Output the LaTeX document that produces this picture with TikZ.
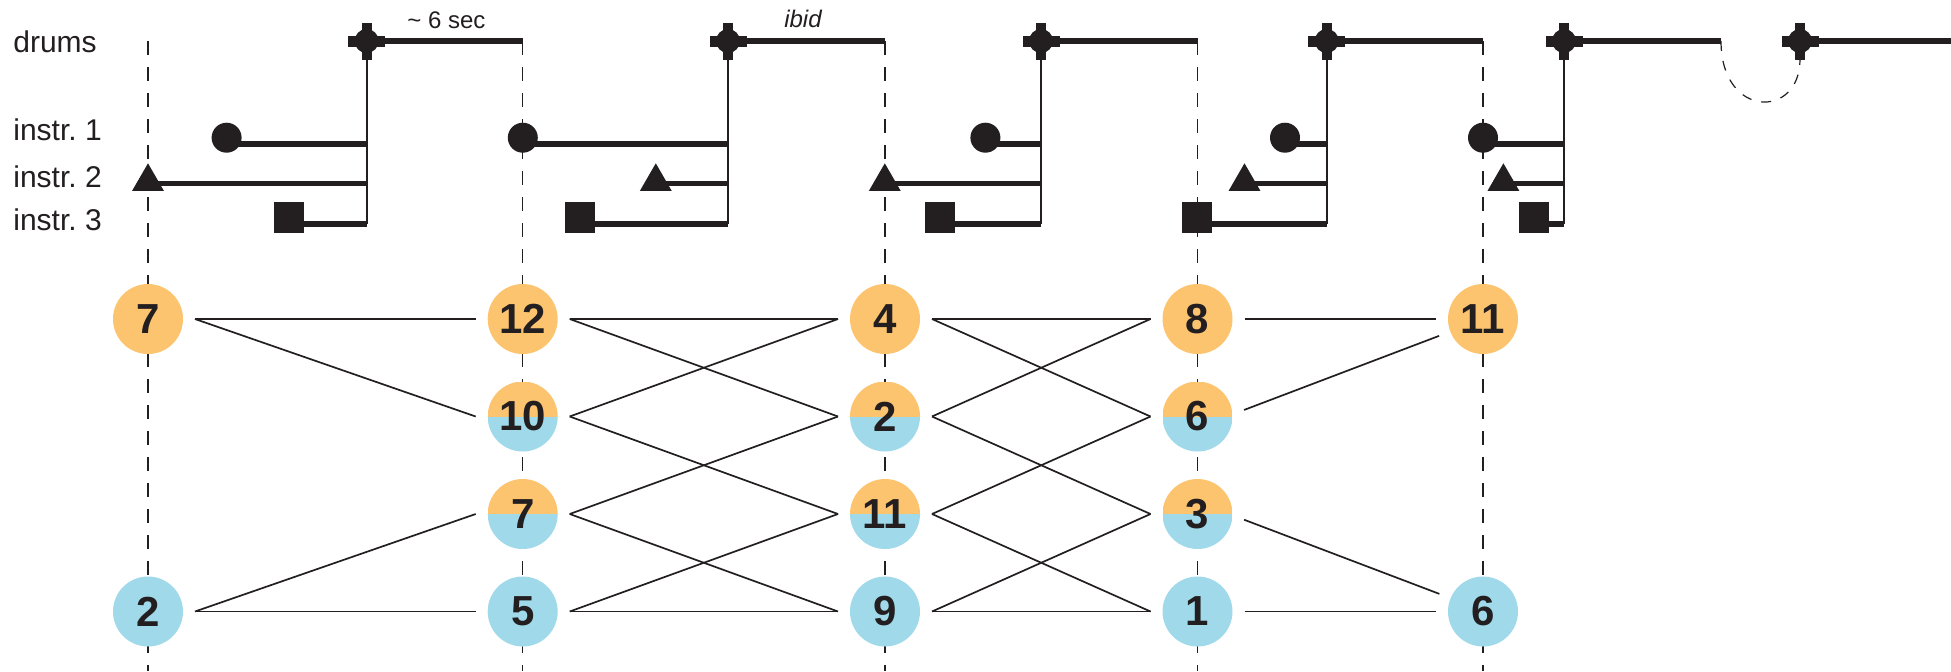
\documentclass[tikz,border=0pt]{standalone}
\usepackage{fontspec}
\setmainfont{Liberation Sans}
\usetikzlibrary{shapes.geometric}
\definecolor{ink}{HTML}{231F20}
\definecolor{warm}{HTML}{FDC46F}
\definecolor{cool}{HTML}{A0DAEA}
\begin{document}
\begin{tikzpicture}[x=0.5pt, y=-0.5pt,
  num/.style={circle, minimum size=35pt, inner sep=0pt, outer sep=6pt, text=ink,
    font=\fontsize{21}{21}\selectfont\bfseries},
  warmnum/.style={num, fill=warm},
  coolnum/.style={num, fill=cool},
  splitnum/.style={num, path picture={
     \fill[warm] (path picture bounding box.north west) rectangle (path picture bounding box.east);
     \fill[cool] (path picture bounding box.west) rectangle (path picture bounding box.south east);}},
  link/.style={draw=ink, line width=0.85pt},
  grid/.style={draw=ink, line width=0.6pt, dash pattern=on 7pt off 6pt},
  bridge/.style={draw=ink, line width=0.6pt, dash pattern=on 5pt off 5pt},
  part/.style={draw=ink, line width=2.6pt},
  stem/.style={draw=ink, line width=1pt},
  dot/.style={circle, fill=ink, minimum size=15pt, inner sep=0pt},
  tri/.style={regular polygon, regular polygon sides=3, fill=ink, minimum size=18.3pt, inner sep=0pt},
  blk/.style={rectangle, fill=ink, minimum size=15.3pt, inner sep=0pt},
  lbl/.style={font=\fontsize{15}{15}\selectfont, text=ink, anchor=base west, inner sep=0pt},
  note/.style={font=\fontsize{12}{12}\selectfont, text=ink, anchor=base, inner sep=0pt},
  drumhit/.pic={
    \fill[ink] (0,0) circle (6pt);
    \fill[ink] (-9.25pt,-2.75pt) rectangle (9.25pt,2.75pt);
    \fill[ink] (-2.5pt,-9.25pt) rectangle (2.5pt,9.25pt);}
]
\fill[white] (0,0) rectangle (1951,671);
\useasboundingbox (0,0) rectangle (1951,671);

% time grid
\foreach \x in {148,522.7,885,1197.5,1483}
  \draw[grid] (\x,41) -- (\x,671);

% parts: drum hit, three instrument cues, joined by a stem
\foreach \X/\C/\T/\S/\E [count=\i] in {
    366.6/226.6/148/289/522.7,
    728/522.8/655.8/580/885,
    1041/985.4/884.8/939.8/1197.5,
    1326.7/1285/1244.5/1197/1483,
    1564/1483/1503.4/1534/1721} {
  \coordinate (hit\i) at (\X,41);
  \coordinate (end\i) at (\E,41);
  \coordinate (pa\i) at (\C,144);
  \coordinate (pb\i) at (\T,183.5);
  \coordinate (pc\i) at (\S,224);
  \draw[stem] (hit\i) -- (hit\i |- pc\i);
  \draw[part] (pa\i) -- (pa\i -| hit\i);
  \draw[part] (pb\i) -- (pb\i -| hit\i);
  \draw[part] (pc\i) -- (pc\i -| hit\i);
  \draw[part] (hit\i) -- (end\i);
  \node[dot] (ma\i) at (\C,137.7) {};
  \node[tri] (mb\i) at (\T,181.6) {};
  \node[blk] (mc\i) at (\S,217.5) {};
  \pic at (hit\i) {drumhit};
}
\coordinate (hit6) at (1800,41);
\coordinate (edge6) at (1951,41);
\draw[bridge] (end5) .. controls (1721,119) and (1800,119) .. ([yshift=-9.25pt]hit6);
\draw[part] (hit6) -- (edge6);
\pic at (hit6) {drumhit};

% labels
\node[lbl] (drums) at (13,52) {drums};
\node[lbl] (ins1) at (13,140) {instr.\ 1};
\node[lbl] (ins2) at (13,187) {instr.\ 2};
\node[lbl] (ins3) at (13,230) {instr.\ 3};
\node[note, anchor=base west] (dur) at (407,28) {\textasciitilde\ 6 sec};
\node[note] (same) at (803,27) {\itshape ibid};

% pitch states
\node[warmnum] (c1a) at (148,319) {7};
\node[coolnum] (c1d) at (148,611.5) {2};
\node[warmnum] (c2a) at (522.7,319) {12};
\node[splitnum] (c2b) at (522.7,416.5) {10};
\node[splitnum] (c2c) at (522.7,514) {7};
\node[coolnum] (c2d) at (522.7,611.5) {5};
\node[warmnum] (c3a) at (885,319) {4};
\node[splitnum] (c3b) at (885,416.5) {2};
\node[splitnum] (c3c) at (885,514) {11};
\node[coolnum] (c3d) at (885,611.5) {9};
\node[warmnum] (c4a) at (1197.5,319) {8};
\node[splitnum] (c4b) at (1197.5,416.5) {6};
\node[splitnum] (c4c) at (1197.5,514) {3};
\node[coolnum] (c4d) at (1197.5,611.5) {1};
\node[warmnum] (c5a) at (1483,319) {11};
\node[coolnum] (c5d) at (1483,611.5) {6};

% transitions
\draw[link] (c1a.east) -- (c2a.west);
\draw[link] (c1a.east) -- (c2b.west);
\draw[link] (c1d.east) -- (c2c.west);
\draw[link] (c1d.east) -- (c2d.west);

\draw[link] (c2a.east) -- (c3a.west);
\draw[link] (c2a.east) -- (c3b.west);
\draw[link] (c2b.east) -- (c3a.west);
\draw[link] (c2b.east) -- (c3c.west);
\draw[link] (c2c.east) -- (c3b.west);
\draw[link] (c2c.east) -- (c3d.west);
\draw[link] (c2d.east) -- (c3c.west);
\draw[link] (c2d.east) -- (c3d.west);

\draw[link] (c3a.east) -- (c4a.west);
\draw[link] (c3a.east) -- (c4b.west);
\draw[link] (c3b.east) -- (c4a.west);
\draw[link] (c3b.east) -- (c4c.west);
\draw[link] (c3c.east) -- (c4b.west);
\draw[link] (c3c.east) -- (c4d.west);
\draw[link] (c3d.east) -- (c4c.west);
\draw[link] (c3d.east) -- (c4d.west);

\draw[link] (c4a.east) -- (c5a.west);
\draw[link] (c4b.8) -- (c5a.201);
\draw[link] (c4c.353) -- (c5d.158);
\draw[link] (c4d.east) -- (c5d.west);
\end{tikzpicture}
\end{document}
